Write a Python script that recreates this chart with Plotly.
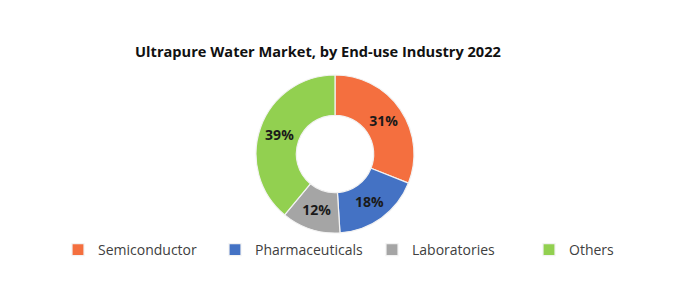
import plotly.graph_objects as go

categories = ["Semiconductor", "Pharmaceuticals", "Laboratories", "Others"]
shares = [31, 18, 12, 39]
colors = ["#F46F3F", "#4472C4", "#A5A5A5", "#92D050"]
title_text = "Ultrapure Water Market, by End-use Industry 2022"

W, H = 700, 288
cx, cy, r = 335, 154, 79

fig = go.Figure(go.Pie(
    labels=categories,
    values=shares,
    hole=0.49,
    sort=False,
    direction="clockwise",
    rotation=0,
    marker=dict(colors=colors, line=dict(color="#F2F2F2", width=1.2)),
    texttemplate="%{value}%",
    textposition="inside",
    insidetextorientation="horizontal",
    textfont=dict(family="Open Sans", size=14, color="#1a1a1a", weight="bold"),
    domain=dict(x=[(cx - r) / W, (cx + r) / W], y=[(H - cy - r) / H, (H - cy + r) / H]),
    showlegend=True,
))

fig.update_layout(
    width=W, height=H,
    margin=dict(l=0, r=0, t=0, b=0),
    paper_bgcolor="white",
    plot_bgcolor="white",
    title=dict(
        text="<b>" + title_text + "</b>",
        x=318 / W, xanchor="center",
        y=1 - 52 / H, yanchor="middle",
        font=dict(family="Open Sans", size=14.6, color="#111111"),
    ),
    legend=dict(
        orientation="h",
        x=58 / W, xanchor="left",
        y=1 - 250 / H, yanchor="middle",
        entrywidth=112, entrywidthmode="pixels",
        font=dict(family="Open Sans", size=14, color="#404040"),
        itemwidth=30,
        traceorder="normal",
    ),
)

fig.write_html("out.html")
